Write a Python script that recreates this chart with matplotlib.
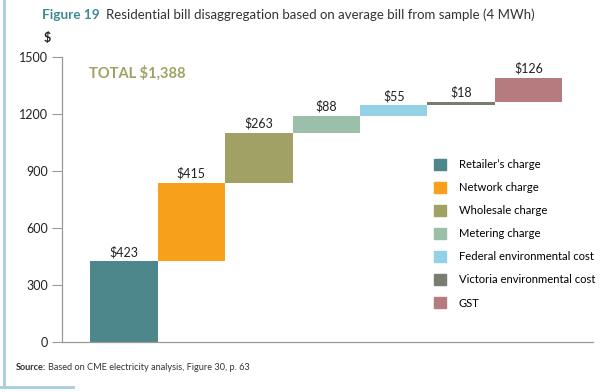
import matplotlib
matplotlib.use("Agg")
import matplotlib.pyplot as plt
from matplotlib.patches import Rectangle
from matplotlib.lines import Line2D

plt.rcParams["font.family"] = ["Lato", "DejaVu Sans"]

# data
components = [
    "Retailer\u2019s charge",
    "Network charge",
    "Wholesale charge",
    "Metering charge",
    "Federal environmental cost",
    "Victoria environmental cost",
    "GST",
]
values = [423, 415, 263, 88, 55, 18, 126]
value_labels = ["$423", "$415", "$263", "$88", "$55", "$18", "$126"]
colors = ["#4d868b", "#f7a01c", "#a1a165", "#9bbfa9", "#92d2e4", "#797c70", "#b67b7e"]
yticks = [0, 300, 600, 900, 1200, 1500]
total_label = "TOTAL $1,388"

fig = plt.figure(figsize=(6.0, 3.92), dpi=100)
ax = fig.add_axes([0.103, 0.128, 0.885, 0.727])

bottoms = []
running = 0
for v in values:
    bottoms.append(running)
    running += v

xs = list(range(len(values)))
ax.bar(xs, values, bottom=bottoms, width=1.0, color=colors, linewidth=0)
for x, b, v, lab in zip(xs, bottoms, values, value_labels):
    ax.text(x, b + v + 18, lab, ha="center", va="bottom", fontsize=9, color="#222222")

ax.text(-0.52, 1412, total_label, ha="left", va="center", fontsize=10.5,
        fontweight="bold", color="#a1a165")

ax.set_xlim(-0.92, 6.95)
ax.set_ylim(0, 1500)
ax.set_yticks(yticks)
ax.set_xticks([])
ax.tick_params(axis="y", length=7, width=0.8, color="#999999", labelsize=9,
               labelcolor="#222222", pad=3)
for side in ("top", "right"):
    ax.spines[side].set_visible(False)
for side in ("left", "bottom"):
    ax.spines[side].set_color("#999999")
    ax.spines[side].set_linewidth(0.9)

handles = [Rectangle((0, 0), 1, 1, color=c) for c in colors]
ax.legend(handles, components, loc="upper left", bbox_to_anchor=(0.70, 0.642),
          frameon=False, fontsize=8.1, handlelength=1.13, handleheight=1.08,
          handletextpad=1.1, labelspacing=1.06, borderaxespad=0, borderpad=0)

# headers and source
fig.text(0.070, 0.962, "Figure 19", ha="left", va="center", fontsize=9.8,
         fontweight="bold", color="#3e8a95")
fig.text(0.177, 0.962, "Residential bill disaggregation based on average bill from sample (4 MWh)",
         ha="left", va="center", fontsize=9.5, color="#333333")
fig.text(0.078, 0.903, "$", ha="center", va="center", fontsize=9, fontweight="bold",
         color="#222222")
fig.text(0.027, 0.063, "Source:", ha="left", va="center", fontsize=6.6,
         fontweight="bold", color="#333333")
fig.text(0.080, 0.063, "Based on CME electricity analysis, Figure 30, p. 63", ha="left",
         va="center", fontsize=6.6, color="#333333")

# light blue frame on the left
fig.add_artist(Line2D([0.006, 0.006], [0.012, 1.0], color="#a6cde0", linewidth=2.0))
fig.add_artist(Line2D([0.0, 0.122], [0.012, 0.012], color="#a6cde0", linewidth=2.0))

fig.savefig("out.png", dpi=100)
